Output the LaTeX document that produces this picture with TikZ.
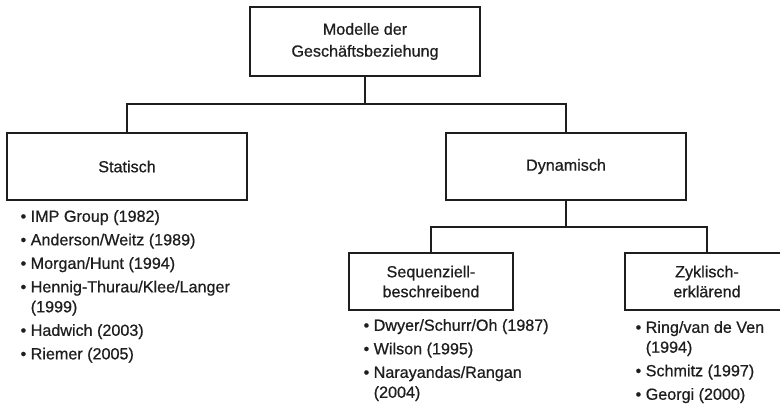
\documentclass[tikz,border=0pt]{standalone}
\usepackage{fontspec}
\setmainfont{Liberation Sans}[RawFeature={embolden=0.7}]
\usepackage{tikz}

\definecolor{ink}{HTML}{1E1E1E}
\newcommand{\refitem}{\textbullet~}
\newcommand{\refcont}{\hphantom{\textbullet~}}

\begin{document}
\begin{tikzpicture}[
    x = 1bp, y = -1bp,
    line width = 1.2bp,
    every node/.style = {font = \fontsize{16.2}{20}\selectfont,
      text = ink},
    category/.style = {draw = ink,
      align = center,
      inner sep = 0pt},
    wide/.style = {minimum width = 240bp,
      minimum height = 67bp},
    narrow/.style = {minimum width = 164bp,
      minimum height = 57bp},
    references/.style = {anchor = north west,
      align = left,
      inner sep = 0pt},
    ]

    \useasboundingbox (0, 0) rectangle (780, 403);
    \clip (0, 0) rectangle (780, 403);

    \node at (365, 41.5)
    [category, minimum width = 230bp, minimum height = 69bp, name = modelle]
    {Modelle der\\[2bp] Geschäftsbeziehung};

    \node at (127, 166.5)
    [category, wide, name = statisch] {Statisch};
    \node at (566, 166.5)
    [category, wide, name = dynamisch] {Dynamisch};

    \node at (431, 281.5)
    [category, narrow, name = sequenziell] {Sequenziell-\\beschreibend};
    \node at (707, 281.5)
    [category, narrow, name = zyklisch] {Zyklisch-\\erklärend};

    \coordinate (fork_top) at (365, 104);
    \coordinate (fork_dyn) at (566, 227);

    \draw [ink] (modelle.south) -- (fork_top);
    \draw [ink] (statisch.north) |- (fork_top) -| (dynamisch.north);
    \draw [ink] (dynamisch.south) -- (fork_dyn);
    \draw [ink] (sequenziell.north) |- (fork_dyn) -| (zyklisch.north);

    \node at (20, 209.5) [references, name = statisch_refs]
    {\refitem IMP Group (1982)\\[3.6bp]
     \refitem Anderson/Weitz (1989)\\[3.6bp]
     \refitem Morgan/Hunt (1994)\\[3.6bp]
     \refitem Hennig-Thurau/Klee/Langer\\
     \refcont (1999)\\[3.6bp]
     \refitem Hadwich (2003)\\[3.6bp]
     \refitem Riemer (2005)};

    \node at (363, 318.5) [references, name = sequenziell_refs]
    {\refitem Dwyer/Schurr/Oh (1987)\\[3.6bp]
     \refitem Wilson (1995)\\[3.6bp]
     \refitem Narayandas/Rangan\\
     \refcont (2004)};

    \node at (635, 320.5) [references, name = zyklisch_refs]
    {\refitem Ring/van de Ven\\
     \refcont (1994)\\[3.6bp]
     \refitem Schmitz (1997)\\[3.6bp]
     \refitem Georgi (2000)};
  \end{tikzpicture}
\end{document}
